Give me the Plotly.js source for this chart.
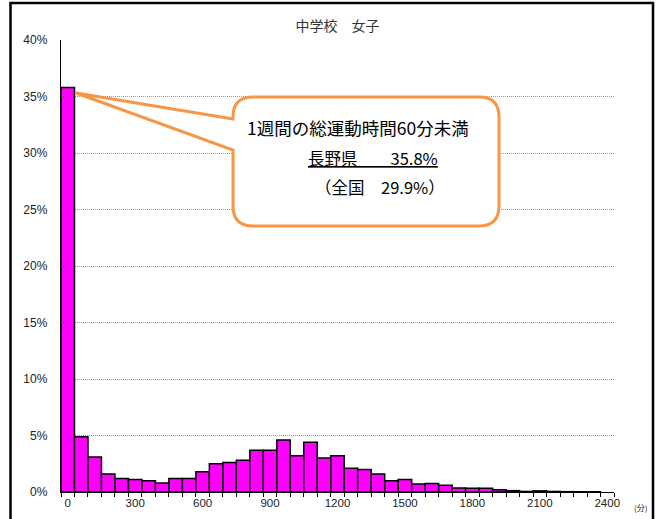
<!DOCTYPE html>
<html>
<head>
<meta charset="utf-8">
<script src="https://cdn.plot.ly/plotly-3.0.1.min.js"></script>
<style>html,body{margin:0;padding:0;background:#fff;}#chart{width:664px;height:519px;}</style>
</head>
<body>
<div id="chart"></div>
<script>
// Weekly total exercise time (minutes), bins of 60 minutes
const minutes = [0,60,120,180,240,300,360,420,480,540,600,660,720,780,840,900,960,1020,1080,1140,
                 1200,1260,1320,1380,1440,1500,1560,1620,1680,1740,1800,1860,1920,1980,2040,2100,2160,2220,2280,2340];
// Share of students (%)
const share = [35.8,4.9,3.1,1.6,1.2,1.1,1.0,0.8,1.2,1.2,1.8,2.5,2.6,2.8,3.7,3.7,4.6,3.2,4.4,3.0,
               3.2,2.1,2.0,1.6,1.0,1.1,0.7,0.75,0.6,0.35,0.33,0.33,0.2,0.12,0.05,0.1,0.05,0.03,0.02,0.02];
const xTickVals = [0,300,600,900,1200,1500,1800,2100,2400];
const xTickText = ['0','300','600','900','1200','1500','1800','2100','2400'];
const titleText = '中学校　女子';
const unitText = '(分)';
const calloutLines = ['1週間の総運動時間60分未満', '<u>長野県　　35.8%</u>', '（全国　29.9%）'];

// plot area in pixels
const W = 664, H = 519, L = 61, R = 614, T = 40, B = 492;
const px = v => (v - L) / (R - L);
const py = v => (B - v) / (B - T);

// callout path (pixels)
const cL = 233, cT = 97, cR = 499, cB = 226, r = 20;
const tipX = 76, tipY = 93;
const pts = [];
function M(x,y){pts.push('M'+px(x)+','+py(y));}
function Ln(x,y){pts.push('L'+px(x)+','+py(y));}
function Qd(cx,cy,x,y){pts.push('Q'+px(cx)+','+py(cy)+' '+px(x)+','+py(y));}
M(cL+r, cT); Ln(cR-r, cT); Qd(cR, cT, cR, cT+r); Ln(cR, cB-r); Qd(cR, cB, cR-r, cB);
Ln(cL+r, cB); Qd(cL, cB, cL, cB-r); Ln(cL, 150); Ln(tipX, tipY); Ln(cL, 119); Ln(cL, cT+r);
Qd(cL, cT, cL+r, cT);
const calloutPath = pts.join(' ') + ' Z';

const trace = {
  type: 'bar',
  x: minutes,
  y: share,
  width: 60,
  marker: {color: '#FF00FF', line: {color: '#000000', width: 1.5}},
  hoverinfo: 'x+y'
};

const tickFont = {family: 'Liberation Sans, Arial', size: 11.5, color: '#222222'};

const layout = {
  width: W, height: H,
  margin: {l: L, r: W - R, t: T, b: H - B, pad: 0},
  paper_bgcolor: '#ffffff', plot_bgcolor: '#ffffff',
  showlegend: false,
  bargap: 0,
  title: {text: titleText, x: 0.5, xref: 'paper', xanchor: 'center', y: 1 - 26/H, yanchor: 'middle',
          font: {family: 'Noto Sans CJK JP', size: 14, color: '#333333'}},
  xaxis: {
    range: [-30, 2430], type: 'linear', fixedrange: true,
    tickmode: 'array', tickvals: xTickVals, ticktext: xTickText,
    ticks: '', showgrid: false, zeroline: false,
    showline: true, linecolor: '#000000', linewidth: 1.2,
    tickfont: tickFont,
    minor: {ticks: 'outside', tick0: -30, dtick: 60, ticklen: 4, tickcolor: '#000000', tickwidth: 1, showgrid: false}
  },
  yaxis: {
    range: [0, 40], fixedrange: true,
    tickmode: 'linear', tick0: 0, dtick: 5, ticksuffix: '%',
    ticks: 'inside', ticklen: 3, tickcolor: '#555555',
    showgrid: true, gridcolor: '#9a9a9a', griddash: '1px,1px', gridwidth: 1,
    zeroline: false, showline: true, linecolor: '#000000', linewidth: 1.2,
    ticklabelstandoff: 10,
    tickfont: {family: 'Liberation Sans, Arial', size: 12, color: '#222222'}
  },
  shapes: [
    {type: 'rect', xref: 'paper', yref: 'paper', x0: px(10.5), x1: px(653), y0: py(3), y1: py(540),
     line: {color: '#000000', width: 2.5}, fillcolor: 'rgba(0,0,0,0)', layer: 'above'},
    {type: 'path', xref: 'paper', yref: 'paper', path: calloutPath,
     line: {color: '#F79646', width: 3}, fillcolor: '#ffffff', layer: 'above'}
  ],
  annotations: [
    {xref: 'paper', yref: 'paper', x: px(358), y: py(128), xanchor: 'center', yanchor: 'middle', showarrow: false,
     text: calloutLines[0], font: {family: 'Noto Sans CJK JP', size: 17.5, color: '#000000'}},
    {xref: 'paper', yref: 'paper', x: px(373), y: py(158), xanchor: 'center', yanchor: 'middle', showarrow: false,
     text: calloutLines[1], font: {family: 'Noto Sans CJK JP', size: 16.5, color: '#000000'}},
    {xref: 'paper', yref: 'paper', x: px(380), y: py(187), xanchor: 'center', yanchor: 'middle', showarrow: false,
     text: calloutLines[2], font: {family: 'Noto Sans CJK JP', size: 16.5, color: '#000000'}},
    {xref: 'paper', yref: 'paper', x: px(640), y: py(507), xanchor: 'center', yanchor: 'middle', showarrow: false,
     text: unitText, font: {family: 'Noto Sans CJK JP', size: 8, color: '#222222'}}
  ]
};

Plotly.newPlot('chart', [trace], layout, {displayModeBar: false, staticPlot: true});
</script>
</body>
</html>
